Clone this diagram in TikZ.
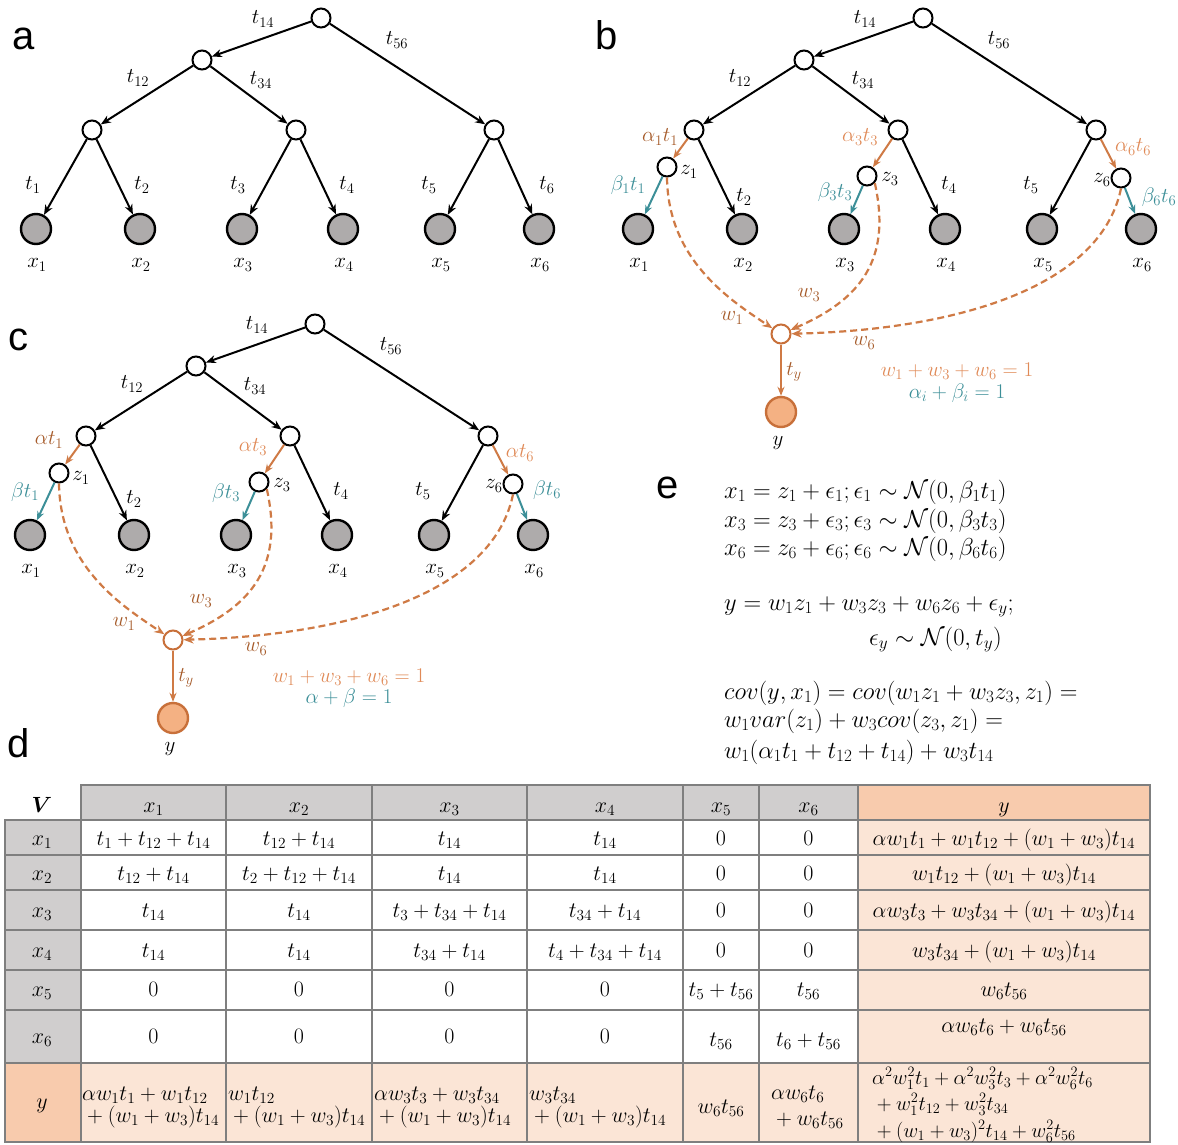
\RequirePackage{fix-cm}
\documentclass[tikz,border=0pt]{standalone}
\usepackage{amsmath}
\usepackage{fontspec}
\newfontfamily\labfont{Liberation Sans}
\usetikzlibrary{arrows.meta}
\definecolor{leafgray}{HTML}{AEABAB}
\definecolor{edgeor}{HTML}{CF7A45}
\definecolor{brownD}{HTML}{A65B2A}
\definecolor{orL}{HTML}{E08A57}
\definecolor{tealc}{HTML}{3C8F98}
\definecolor{yfill}{HTML}{F4B183}
\definecolor{ybord}{HTML}{C8703A}
\definecolor{hdgray}{HTML}{D0CECE}
\definecolor{hdor}{HTML}{F8CBAD}
\definecolor{cellor}{HTML}{FBE5D6}
\definecolor{gridc}{HTML}{7F7F7F}
\tikzset{
 inn/.style={circle,draw=black,line width=2pt,fill=white,minimum size=19pt,inner sep=0pt},
 leafn/.style={circle,draw=black,line width=2.4pt,fill=leafgray,minimum size=30pt,inner sep=0pt},
 ynd/.style={circle,draw=ybord,line width=2pt,fill=white,minimum size=19pt,inner sep=0pt},
 yleaf/.style={circle,draw=ybord,line width=2.4pt,fill=yfill,minimum size=30pt,inner sep=0pt},
 blk/.style={line width=2pt,-{Stealth[length=10pt,width=8pt]}},
 ored/.style={draw=edgeor,line width=2pt,-{Stealth[length=9pt,width=7pt]}},
 tle/.style={draw=tealc,line width=2pt,-{Stealth[length=9pt,width=7pt]}},
 dsh/.style={draw=edgeor,line width=2.2pt,dash pattern=on 7pt off 4pt,-{Stealth[length=10pt,width=8pt]}},
 lab/.style={inner sep=0pt,font=\fontsize{21}{24}\selectfont},
 tab/.style={inner sep=0pt,anchor=base,font=\fontsize{22}{24}\selectfont},
 tabl/.style={inner sep=0pt,anchor=base west,font=\fontsize{22}{24}\selectfont},
 tabs/.style={inner sep=0pt,anchor=base west,font=\fontsize{20.5}{22}\selectfont},
 eqn/.style={inner sep=0pt,anchor=base west,font=\fontsize{24.5}{26}\selectfont},
 pl/.style={inner sep=0pt,anchor=base west,font=\labfont\fontsize{40}{44}\selectfont},
 grid/.style={draw=gridc,line width=2.5pt,line cap=rect}
}
\newcommand\treebase[1]{%
 \node[inn] (#1r) at (0,0) {};
 \node[inn] (#1l) at (-119,42) {};
 \node[inn] (#1a) at (-229,112) {};
 \node[inn] (#1b) at (-25,112) {};
 \node[inn] (#1c) at (173,112) {};
 \foreach \i/\xx in {1/-285,2/-181,3/-79,4/22,5/119,6/218}{%
   \node[leafn] (#1x\i) at (\xx,211) {};
   \node[lab] (#1lx\i) at (\xx+1,247) {$x_{\i}$};}
 \draw[blk] (#1r) -- (#1l);
 \draw[blk] (#1r) -- (#1c);
 \draw[blk] (#1l) -- (#1a);
 \draw[blk] (#1l) -- (#1b);
 \draw[blk] (#1a) -- (#1x2);
 \draw[blk] (#1b) -- (#1x4);
 \draw[blk] (#1c) -- (#1x5);
 \node[lab] (#1t14) at (-58,1) {$t_{14}$};
 \node[lab] (#1t56) at (76,22) {$t_{56}$};
 \node[lab] (#1t12) at (-183,60) {$t_{12}$};
 \node[lab] (#1t34) at (-60,62) {$t_{34}$};
 \node[lab] (#1t4) at (26,167) {$t_{4}$};
 \node[lab] (#1t5) at (108,167) {$t_{5}$};
}
\newcommand\treeext[1]{%
 \node[inn] (#1z1) at (-256,149) {};
 \node[inn] (#1z3) at (-56,158) {};
 \node[inn] (#1z6) at (198,160) {};
 \draw[ored] (#1a) -- (#1z1);
 \draw[tle] (#1z1) -- (#1x1);
 \draw[ored] (#1b) -- (#1z3);
 \draw[tle] (#1z3) -- (#1x3);
 \draw[ored] (#1c) -- (#1z6);
 \draw[tle] (#1z6) -- (#1x6);
 \node[ynd] (#1Y) at (-142,316) {};
 \node[yleaf] (#1yl) at (-142,394) {};
 \draw[ored] (#1Y) -- (#1yl);
 \draw[dsh] (#1z1.south) .. controls (-255,242) and (-193,282) .. (#1Y);
 \draw[dsh] (#1z3.-42) .. controls (-31,242) and (-63,282) .. (#1Y);
 \draw[dsh] (#1z6.south) .. controls (177,272) and (27,312) .. (#1Y);
 \node[lab] (#1lz1) at (-234,154) {$z_1$};
 \node[lab] (#1lz3) at (-33,161) {$z_3$};
 \node[lab] (#1lz6) at (179,162) {$z_6$};
 \node[lab] (#1ly) at (-145,425) {$y$};
 \node[lab,text=brownD] (#1lty) at (-129,354) {$t_y$};
 \node[lab,text=brownD] (#1lw1) at (-191,300) {$w_1$};
 \node[lab,text=brownD] (#1lw3) at (-114,277) {$w_3$};
 \node[lab,text=brownD] (#1lw6) at (-59,325) {$w_6$};
 \node[lab,text=orL] (#1sum) at (34,353) {$w_1+w_3+w_6=1$};
}
\begin{document}
\begin{tikzpicture}[x=1pt,y=-1pt]
\fill[white] (0,0) rectangle (1178,1145);
\useasboundingbox (0,0) rectangle (1178,1145);
% panel labels
\node[pl] (pa) at (12,50) {a};
\node[pl] (pb) at (595,50) {b};
\node[pl] (pc) at (8,350) {c};
\node[pl] (pd) at (7,757) {d};
\node[pl] (pe) at (656,498) {e};
% panel a
\begin{scope}[shift={(321,18)}]
 \treebase{a}
 \draw[blk] (aa) -- (ax1);
 \draw[blk] (ab) -- (ax3);
 \draw[blk] (ac) -- (ax6);
 \node[lab] (at1) at (-288,167) {$t_{1}$};
 \node[lab] (at2) at (-179,167) {$t_{2}$};
 \node[lab] (at3) at (-83,167) {$t_{3}$};
 \node[lab] (at6) at (226,167) {$t_{6}$};
\end{scope}
% panel b
\begin{scope}[shift={(923,18)}]
 \treebase{b}
 \treeext{b}
 \node[lab] (bt2) at (-179,179) {$t_{2}$};
 \node[lab,text=brownD] (bal1) at (-263,119) {$\alpha_1t_1$};
 \node[lab,text=tealc] (bbe1) at (-295,167) {$\beta_1t_1$};
 \node[lab,text=orL] (bal3) at (-63,119) {$\alpha_3t_3$};
 \node[lab,text=tealc] (bbe3) at (-88,174) {$\beta_3t_3$};
 \node[lab,text=orL] (bal6) at (210,129) {$\alpha_6t_6$};
 \node[lab,text=tealc] (bbe6) at (236,179) {$\beta_6t_6$};
 \node[lab,text=tealc] (bab) at (34,375) {$\alpha_i+\beta_i=1$};
\end{scope}
% panel c
\begin{scope}[shift={(315,324)}]
 \treebase{c}
 \treeext{c}
 \node[lab] (ct2) at (-181,175) {$t_{2}$};
 \node[lab,text=brownD] (cal1) at (-266,116) {$\alpha t_1$};
 \node[lab,text=tealc] (cbe1) at (-290,168) {$\beta t_1$};
 \node[lab,text=orL] (cal3) at (-62,123) {$\alpha t_3$};
 \node[lab,text=tealc] (cbe3) at (-89,169) {$\beta t_3$};
 \node[lab,text=orL] (cal6) at (205,129) {$\alpha t_6$};
 \node[lab,text=tealc] (cbe6) at (232,166) {$\beta t_6$};
 \node[lab,text=tealc] (cab) at (34,374) {$\alpha+\beta=1$};
\end{scope}
% panel e
\node[eqn] (e1) at (724,498) {$x_1=z_1+\epsilon_1;\epsilon_1\sim\mathcal{N}(0,\beta_1t_1)$};
\node[eqn] (e2) at (724,527) {$x_3=z_3+\epsilon_3;\epsilon_3\sim\mathcal{N}(0,\beta_3t_3)$};
\node[eqn] (e3) at (724,555) {$x_6=z_6+\epsilon_6;\epsilon_6\sim\mathcal{N}(0,\beta_6t_6)$};
\node[eqn] (e4) at (724,610) {$y=w_1z_1+w_3z_3+w_6z_6+\epsilon_y;$};
\node[eqn] (e5) at (869,645) {$\epsilon_y\sim\mathcal{N}(0,t_y)$};
\node[eqn] (e6) at (724,699) {$cov(y,x_1)=cov(w_1z_1+w_3z_3,z_1)=$};
\node[eqn] (e7) at (724,727) {$w_1var(z_1)+w_3cov(z_3,z_1)=$};
\node[eqn] (e8) at (724,758) {$w_1(\alpha_1t_1+t_{12}+t_{14})+w_3t_{14}$};
% table fills
\fill[hdgray] (81,785) rectangle (858,820);
\fill[hdor] (858,785) rectangle (1150,820);
\fill[hdgray] (5,820) rectangle (81,1063);
\fill[hdor] (5,1063) rectangle (81,1142);
\fill[cellor] (81,1063) rectangle (1150,1142);
\fill[cellor] (858,820) rectangle (1150,1063);
% grid
\foreach \xx in {81,226,372,527,683,759,858,1150}{\draw[grid] (\xx,785) -- (\xx,1142);}
\draw[grid] (5,820) -- (5,1142);
\draw[grid] (81,785) -- (1150,785);
\foreach \yy in {820,855,890,930,970,1010,1063,1142}{\draw[grid] (5,\yy) -- (1150,\yy);}
% header
\node[tab] (hV) at (42,812) {$\boldsymbol{V}$};
\foreach \i/\xx in {1/153.5,2/299,3/449.5,4/605,5/721,6/808.5}{\node[tab] (hc\i) at (\xx,812) {$x_{\i}$};}
\node[tab] (hcy) at (1004,812) {$y$};
\foreach \i/\yy in {1/845,2/880,3/917,4/957,5/996,6/1043}{\node[tab] (hr\i) at (42,\yy) {$x_{\i}$};}
\node[tab] (hry) at (42,1108) {$y$};
% row x1
\node[tab] (c11) at (153.5,845) {$t_1+t_{12}+t_{14}$};
\node[tab] (c12) at (299,845) {$t_{12}+t_{14}$};
\node[tab] (c13) at (449.5,845) {$t_{14}$};
\node[tab] (c14) at (605,845) {$t_{14}$};
\node[tab] (c15) at (721,845) {$0$};
\node[tab] (c16) at (808.5,845) {$0$};
\node[tab] (c1y) at (1004,845) {$\alpha w_1t_1+w_1t_{12}+(w_1+w_3)t_{14}$};
% row x2
\node[tab] (c21) at (153.5,880) {$t_{12}+t_{14}$};
\node[tab] (c22) at (299,880) {$t_2+t_{12}+t_{14}$};
\node[tab] (c23) at (449.5,880) {$t_{14}$};
\node[tab] (c24) at (605,880) {$t_{14}$};
\node[tab] (c25) at (721,880) {$0$};
\node[tab] (c26) at (808.5,880) {$0$};
\node[tab] (c2y) at (1004,880) {$w_1t_{12}+(w_1+w_3)t_{14}$};
% row x3
\node[tab] (c31) at (153.5,917) {$t_{14}$};
\node[tab] (c32) at (299,917) {$t_{14}$};
\node[tab] (c33) at (449.5,917) {$t_3+t_{34}+t_{14}$};
\node[tab] (c34) at (605,917) {$t_{34}+t_{14}$};
\node[tab] (c35) at (721,917) {$0$};
\node[tab] (c36) at (808.5,917) {$0$};
\node[tab] (c3y) at (1004,917) {$\alpha w_3t_3+w_3t_{34}+(w_1+w_3)t_{14}$};
% row x4
\node[tab] (c41) at (153.5,957) {$t_{14}$};
\node[tab] (c42) at (299,957) {$t_{14}$};
\node[tab] (c43) at (449.5,957) {$t_{34}+t_{14}$};
\node[tab] (c44) at (605,957) {$t_4+t_{34}+t_{14}$};
\node[tab] (c45) at (721,957) {$0$};
\node[tab] (c46) at (808.5,957) {$0$};
\node[tab] (c4y) at (1004,957) {$w_3t_{34}+(w_1+w_3)t_{14}$};
% row x5
\node[tab] (c51) at (153.5,996) {$0$};
\node[tab] (c52) at (299,996) {$0$};
\node[tab] (c53) at (449.5,996) {$0$};
\node[tab] (c54) at (605,996) {$0$};
\node[tab] (c55) at (721,996) {$t_5+t_{56}$};
\node[tab] (c56) at (808.5,996) {$t_{56}$};
\node[tab] (c5y) at (1004,996) {$w_6t_{56}$};
% row x6
\node[tab] (c61) at (153.5,1043) {$0$};
\node[tab] (c62) at (299,1043) {$0$};
\node[tab] (c63) at (449.5,1043) {$0$};
\node[tab] (c64) at (605,1043) {$0$};
\node[tab] (c65) at (721,1046) {$t_{56}$};
\node[tab] (c66) at (808.5,1046) {$t_6+t_{56}$};
\node[tab] (c6y) at (1004,1032) {$\alpha w_6t_6+w_6t_{56}$};
% row y
\node[tabl] (cy1a) at (82,1100) {$\alpha w_1t_1+w_1t_{12}$};
\node[tabl] (cy1b) at (82,1122) {${}+(w_1+w_3)t_{14}$};
\node[tabl] (cy2a) at (228,1100) {$w_1t_{12}$};
\node[tabl] (cy2b) at (228,1122) {${}+(w_1+w_3)t_{14}$};
\node[tabl] (cy3a) at (374,1100) {$\alpha w_3t_3+w_3t_{34}$};
\node[tabl] (cy3b) at (374,1122) {${}+(w_1+w_3)t_{14}$};
\node[tabl] (cy4a) at (529,1100) {$w_3t_{34}$};
\node[tabl] (cy4b) at (529,1122) {${}+(w_1+w_3)t_{14}$};
\node[tab] (cy5) at (721,1113) {$w_6t_{56}$};
\node[tabl] (cy6a) at (771,1099) {$\alpha w_6t_6$};
\node[tabl] (cy6b) at (771,1125) {${}+w_6t_{56}$};
\node[tabs] (cyya) at (872,1084) {$\alpha^2w_1^2t_1+\alpha^2w_3^2t_3+\alpha^2w_6^2t_6$};
\node[tabs] (cyyb) at (872,1110) {${}+w_1^2t_{12}+w_3^2t_{34}$};
\node[tabs] (cyyc) at (872,1137) {${}+(w_1+w_3)^2t_{14}+w_6^2t_{56}$};
\end{tikzpicture}
\end{document}
